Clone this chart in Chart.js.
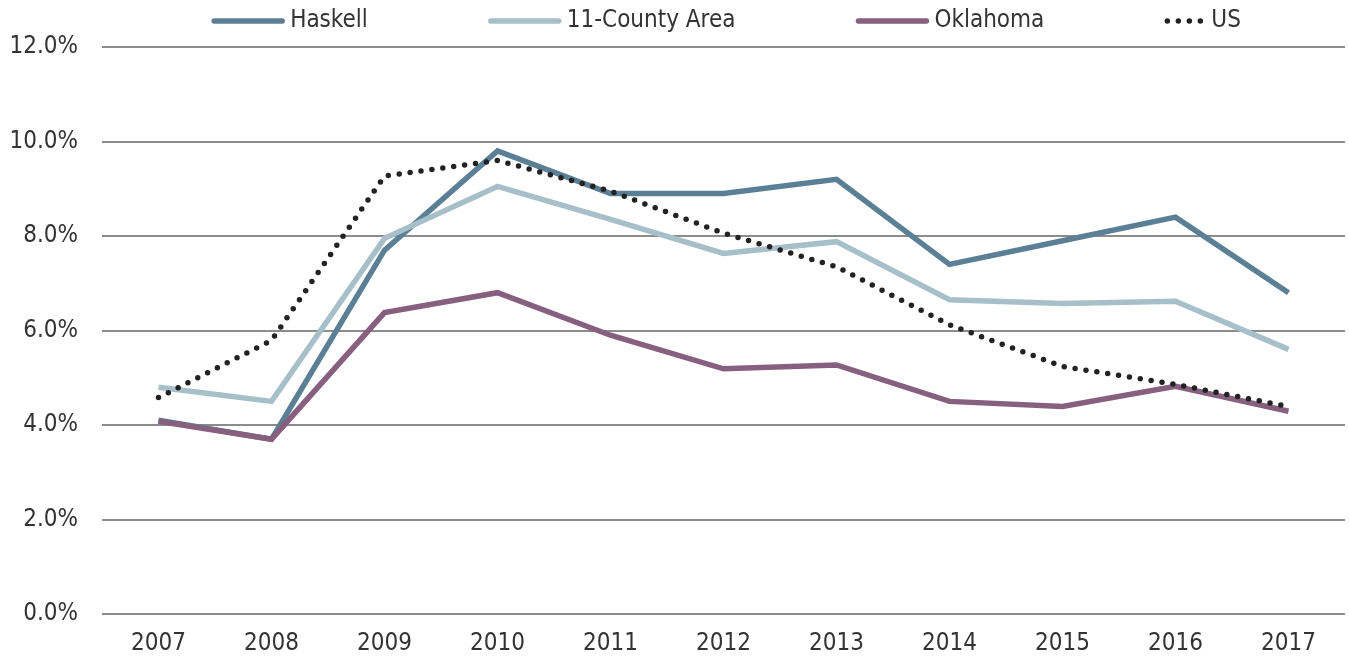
<!DOCTYPE html>
<html>
<head>
<meta charset="utf-8">
<script src="https://cdn.jsdelivr.net/npm/chart.js@4"></script>
<style>
  html, body { margin: 0; padding: 0; background: #fff; }
  #wrap { width: 1349px; height: 660px; position: relative; }
</style>
</head>
<body>
<div id="wrap"><canvas id="rateChart"></canvas></div>
<script>
// ================= DATA =================
const years = ["2007","2008","2009","2010","2011","2012","2013","2014","2015","2016","2017"];
const haskell = [4.1, 3.7, 7.7, 9.8, 8.9, 8.9, 9.2, 7.4, 7.9, 8.4, 6.8];
const countyArea = [4.8, 4.5, 7.95, 9.05, 8.35, 7.63, 7.88, 6.65, 6.57, 6.62, 5.6];
const oklahoma = [4.08, 3.7, 6.38, 6.8, 5.9, 5.19, 5.27, 4.5, 4.39, 4.82, 4.29];
const us = [4.58, 5.79, 9.27, 9.6, 8.95, 8.06, 7.35, 6.12, 5.24, 4.86, 4.39];
const yTicks = [0, 2, 4, 6, 8, 10, 12];

const FONT = '"DejaVu Sans Condensed", "DejaVu Sans", sans-serif';

// ================= LEGEND =================
// simple legend drawn on top, spaced like the original
const topLegend = {
  id: "topLegend",
  afterDraw(chart) {
    const ctx = chart.ctx;
    const area = chart.chartArea;
    ctx.save();
    ctx.font = "24px " + FONT;
    ctx.textBaseline = "middle";
    const items = chart.data.datasets.map(ds => {
      const len = ds.legendLength || 72;
      return { ds, len, w: len + 6 + ctx.measureText(ds.label).width };
    });
    const gap = 121;
    const total = items.reduce((s, it) => s + it.w, 0) + gap * (items.length - 1);
    let x = (area.left + area.right) / 2 - total / 2 + 3;
    const y = 21;
    items.forEach(it => {
      const ds = it.ds;
      ctx.strokeStyle = ds.borderColor;
      ctx.lineWidth = ds.borderWidth;
      ctx.lineCap = "round";
      ctx.setLineDash(ds.borderDash || []);
      ctx.beginPath();
      ctx.moveTo(x + 2, y);
      ctx.lineTo(x + it.len - 2, y);
      ctx.stroke();
      ctx.setLineDash([]);
      ctx.fillStyle = "#333";
      ctx.fillText(ds.label, x + it.len + 6, y);
      x += it.w + gap;
    });
    ctx.restore();
  }
};

// ================= CHART =================
new Chart(document.getElementById("rateChart"), {
  type: "line",
  data: {
    labels: years,
    datasets: [
      { label: "Haskell", data: haskell, borderColor: "#5b7f95", borderWidth: 5.5, order: 3 },
      { label: "11-County Area", data: countyArea, borderColor: "#a7bfc9", borderWidth: 5.5, order: 2 },
      { label: "Oklahoma", data: oklahoma, borderColor: "#87607f", borderWidth: 5.5, order: 1 },
      { label: "US", data: us, borderColor: "#222222", borderWidth: 5.5, borderDash: [0, 11],
        borderCapStyle: "round", order: 0, legendLength: 40 }
    ]
  },
  options: {
    responsive: true,
    maintainAspectRatio: false,
    animation: false,
    elements: {
      point: { radius: 0, hoverRadius: 0 },
      line: { tension: 0, borderJoinStyle: "miter" }
    },
    layout: { padding: { top: 47, left: 0, right: 4, bottom: 0 } },
    plugins: {
      legend: { display: false },
      tooltip: { enabled: false }
    },
    scales: {
      x: {
        offset: true,
        grid: { display: false },
        border: { display: false },
        afterFit: axis => { axis.height = 46; },
        ticks: { color: "#333", padding: 7, font: { family: FONT, size: 24 } }
      },
      y: {
        min: 0,
        max: 12,
        afterBuildTicks: axis => { axis.ticks = yTicks.map(v => ({ value: v })); },
        afterFit: axis => { axis.width = 102; },
        grid: { color: "#8c8c8c", lineWidth: 2, drawTicks: false },
        border: { display: false },
        ticks: {
          color: "#333",
          padding: 24,
          font: { family: FONT, size: 24 },
          callback: v => v.toFixed(1) + "%"
        }
      }
    }
  },
  plugins: [topLegend]
});
</script>
</body>
</html>
